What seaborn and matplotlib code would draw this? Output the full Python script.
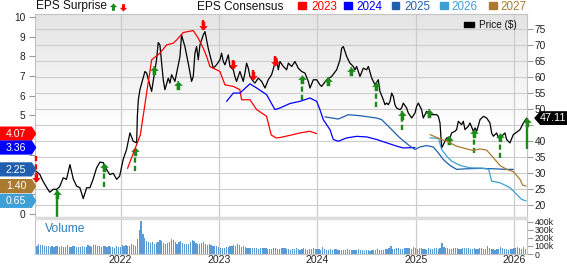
import numpy as np
import pandas as pd
import matplotlib
matplotlib.use("Agg")
import matplotlib.pyplot as plt
import seaborn as sns
from matplotlib.patches import Polygon, Rectangle
from matplotlib.path import Path
from matplotlib.lines import Line2D

sns.set_theme(style="white")
plt.rcParams["font.family"] = ["Liberation Sans", "DejaVu Sans"]

# ---------------- data ----------------
price_t = [2021.139, 2021.18, 2021.21, 2021.25, 2021.28, 2021.315, 2021.35, 2021.38, 2021.417, 2021.45,
           2021.485, 2021.52, 2021.553, 2021.586, 2021.62, 2021.655, 2021.688, 2021.72, 2021.756, 2021.79,
           2021.823, 2021.857, 2021.89, 2021.925, 2021.96, 2021.99, 2022.026, 2022.06, 2022.095, 2022.128,
           2022.163, 2022.17, 2022.18, 2022.196, 2022.247, 2022.264, 2022.315, 2022.365, 2022.382, 2022.399,
           2022.433, 2022.45, 2022.484, 2022.501, 2022.518, 2022.552, 2022.603, 2022.619, 2022.653, 2022.687,
           2022.721, 2022.738, 2022.755, 2022.772, 2022.789, 2022.806, 2022.84, 2022.857, 2022.874, 2022.89,
           2022.924, 2022.941, 2022.975, 2023.009, 2023.026, 2023.043, 2023.06, 2023.094, 2023.111, 2023.145,
           2023.161, 2023.178, 2023.195, 2023.212, 2023.246, 2023.263, 2023.28, 2023.297, 2023.314, 2023.348,
           2023.365, 2023.399, 2023.433, 2023.467, 2023.5, 2023.534, 2023.568, 2023.585, 2023.602,
           2023.619, 2023.653, 2023.687, 2023.704, 2023.738, 2023.771, 2023.805, 2023.839, 2023.873, 2023.907,
           2023.924, 2023.958, 2023.992, 2024.025, 2024.042, 2024.093, 2024.144, 2024.195, 2024.229, 2024.246,
           2024.263, 2024.28, 2024.297, 2024.33, 2024.364, 2024.381, 2024.398, 2024.432, 2024.466, 2024.5,
           2024.517, 2024.551, 2024.585, 2024.618,
           2024.635, 2024.669, 2024.686, 2024.703, 2024.72, 2024.737, 2024.754, 2024.771, 2024.787, 2024.804,
           2024.838, 2024.855, 2024.872, 2024.906, 2024.923, 2024.957, 2024.991, 2025.008, 2025.025, 2025.058,
           2025.075, 2025.109, 2025.143, 2025.177, 2025.211, 2025.228, 2025.245, 2025.262, 2025.279, 2025.313,
           2025.346, 2025.363, 2025.397, 2025.414, 2025.431, 2025.465, 2025.482, 2025.499, 2025.533, 2025.55,
           2025.584, 2025.601, 2025.618, 2025.652, 2025.686, 2025.719, 2025.753, 2025.77, 2025.787, 2025.821,
           2025.838, 2025.871, 2025.905, 2025.922, 2025.956, 2025.99, 2026.024, 2026.058, 2026.092, 2026.126]
price_v = [30.6, 29.5, 27.5, 25.4, 24.0, 24.9, 24.9, 25.7, 28.5, 28.0,
           32.6, 28.0, 25.9, 25.4, 22.0, 25.4, 25.4, 28.0, 31.6, 33.4,
           33.2, 31.1, 29.5, 29.9, 28.0, 29.0, 34.2, 37.3, 42.5, 39.9,
           39.4, 47.7, 52.8, 55.96, 61.65, 61.14, 55.44, 65.28, 70.67, 69.94,
           59.06, 55.96, 59.58, 58.03, 60.62, 58.55, 66.32, 73.05, 69.42, 64.24,
           58.55, 60.1, 67.35, 69.42, 65.28, 69.94, 73.05, 74.08, 71.5, 68.9,
           64.76, 62.69, 63.73, 65.28, 67.35, 64.76, 63.73, 66.83, 63.21, 62.17,
           60.1, 58.55, 60.1, 61.65, 58.55, 61.14, 64.24, 62.69, 60.1, 58.55,
           58.03, 59.58, 58.55, 56.48, 59.06, 60.62, 64.24, 65.8, 62.17,
           64.76, 63.21, 62.17, 64.24, 63.21, 64.76, 62.69, 61.65, 61.13, 58.54,
           56.47, 59.06, 59.06, 57.51, 56.99, 59.06, 60.1, 62.17, 65.28, 68.9,
           69.42, 67.87, 66.31, 64.24, 63.21, 62.17, 63.21, 60.1, 62.69, 62.17,
           63.21, 59.58, 57.51, 59.06,
           55.43, 52.84, 51.29, 51.81, 51.29, 52.32, 54.91, 53.88, 51.29, 50.25,
           49.73, 50.25, 51.81, 50.25, 48.7, 47.15, 48.7, 50.77, 51.81, 49.73,
           47.15, 49.22, 48.18, 48.18, 48.18, 47.66, 45.59, 37.82, 38.86, 40.93,
           40.93, 42.48, 43.0, 43.52, 46.11, 45.07, 46.11, 43.52, 44.56, 45.59,
           43.0, 44.04, 43.0, 46.63, 47.66, 47.15, 45.59, 42.48, 41.45, 42.48,
           40.93, 41.45, 42.48, 40.41, 39.38, 41.97, 42.69, 43.52, 45.59, 47.11]

eps23_t = [2022.07, 2022.20, 2022.315, 2022.399, 2022.467, 2022.535, 2022.569, 2022.636, 2022.738, 2022.789,
           2022.84, 2022.874, 2022.907, 2023.009, 2023.06, 2023.145, 2023.212, 2023.229, 2023.314, 2023.382,
           2023.483, 2023.53, 2023.58, 2023.62, 2023.72, 2023.82, 2023.92, 2023.99]
eps23_v = [2.3, 4.0, 7.82, 8.16, 8.58, 8.67, 8.83, 9.21, 9.31, 8.92,
           8.41, 7.99, 7.48, 7.23, 6.55, 6.47, 6.30, 5.79, 5.79, 5.29,
           4.95, 4.0, 3.85, 3.87, 3.98, 4.10, 4.19, 4.07]
eps24_t = [2023.077, 2023.145, 2023.212, 2023.314, 2023.382, 2023.483, 2023.568, 2023.619, 2023.72, 2023.822,
           2023.924, 2023.992, 2024.025, 2024.059, 2024.127, 2024.161, 2024.212, 2024.297, 2024.398, 2024.5,
           2024.602, 2024.703, 2024.805, 2024.872, 2024.991]
eps24_v = [5.71, 6.13, 6.13, 6.6, 6.39, 6.05, 5.29, 5.37, 5.6, 5.71,
           5.88, 5.71, 5.29, 4.78, 4.27, 3.77, 3.68, 3.85, 3.93, 3.9,
           3.77, 3.6, 3.43, 3.34, 3.36]
eps25_t = [2024.076, 2024.212, 2024.313, 2024.432, 2024.601, 2024.652, 2024.737, 2024.838, 2024.94, 2024.991,
           2025.041, 2025.109, 2025.177, 2025.228, 2025.279, 2025.346, 2025.414, 2025.516, 2025.651, 2025.787,
           2025.922, 2025.99]
eps25_v = [4.92, 4.81, 5.03, 4.98, 4.86, 4.78, 4.36, 3.85, 3.43, 3.26,
           3.39, 3.46, 3.39, 3.09, 2.75, 2.45, 2.25, 2.28, 2.30, 2.28,
           2.25, 2.25]
eps26_t = [2025.143, 2025.23, 2025.262, 2025.313, 2025.363, 2025.448, 2025.55, 2025.686, 2025.74, 2025.77,
           2025.855, 2025.956, 2026.024, 2026.075, 2026.12]
eps26_v = [3.85, 3.83, 3.26, 2.92, 2.67, 2.45, 2.33, 2.31, 2.25, 1.65,
           1.57, 1.32, 0.98, 0.72, 0.65]
eps27_t = [2025.143, 2025.245, 2025.313, 2025.414, 2025.516, 2025.584, 2025.651, 2025.719, 2025.787, 2025.855,
           2025.922, 2025.99, 2026.058, 2026.085, 2026.12]
eps27_v = [4.02, 3.80, 3.68, 3.43, 3.29, 3.21, 3.29, 3.23, 2.84, 2.45,
           2.25, 2.14, 1.74, 1.45, 1.40]

eps_years = ["2023", "2024", "2025", "2026", "2027"]
eps_colors = ["#ff0000", "#0000ff", "#1f5fad", "#3d9fd3", "#a97a30"]

# EPS surprise arrows (price axis): date, tip price, tail price, direction, solid shaft
surp_t = [2021.139, 2021.35, 2021.83, 2022.145, 2022.34, 2022.58, 2022.84, 2023.14, 2023.345, 2023.57,
          2023.84, 2024.11, 2024.34, 2024.59, 2024.86, 2025.13, 2025.34, 2025.59, 2025.855, 2026.125]
surp_tip = [27.05, 24.57, 32.96, 38.24, 63.41, 58.75, 74.6, 62.48, 59.06, 63.41,
            60.6, 59.99, 63.1, 58.44, 49.43, 50.05, 41.66, 43.83, 42.59, 47.25]
surp_tail = [35.44, 15.56, 25.5, 30.47, 60.6, 55.95, 77.7, 65.28, 62.17, 66.52,
             52.85, 57.2, 60.3, 50.67, 43.52, 47.25, 38.86, 36.38, 34.82, 37.62]
surp_dir = ["down", "up", "up", "up", "up", "up", "down", "down", "down", "down",
            "up", "up", "up", "up", "up", "up", "up", "up", "up", "up"]
surp_solid = [False, True, False, False, False, False, False, False, False, False,
              False, False, False, False, False, False, False, False, False, True]

# weekly volume (thousands)
vol_start = 2021.15
vol_k = [105, 120, 115, 110, 100, 95, 100, 90, 95, 90, 95, 105, 88, 98, 85, 82, 112, 92, 88, 96,
         105, 90, 84, 92, 98, 88, 82, 108, 95, 92, 112, 118, 102, 96, 90, 100, 96, 88, 94, 86,
         92, 80, 96, 88, 84,
         110, 105, 115, 100, 95, 120, 110, 105, 190, 300, 410, 250, 195, 160, 150, 140, 145, 130, 135, 150,
         170, 160, 140, 130, 135, 150, 190, 175, 145, 130, 155, 165, 140, 125, 130, 120, 145, 180, 165, 140,
         120, 130, 140, 150, 125, 115, 120, 110, 105, 100, 95, 90,
         80, 70, 75, 85, 90, 95, 100, 115, 105, 130, 110, 90, 95, 85, 80, 75, 70, 80, 75, 70,
         65, 70, 75, 80, 70, 65, 60, 65, 70, 75, 65, 60, 70, 75, 70, 65, 60, 55, 60, 65,
         70, 60, 55, 65, 70, 60, 55, 60, 65, 70, 60, 65,
         60, 55, 90, 60, 55, 50, 60, 55, 65, 60, 55, 50, 45, 55, 50, 60, 55, 50, 45, 50,
         55, 60, 50, 45, 40, 45, 50, 40, 45, 50, 55, 60, 50, 45, 55, 60, 65, 70, 100, 65,
         60, 70, 75, 65, 60, 70, 80, 75, 70, 65, 90, 70,
         65, 70, 80, 65, 60, 55, 70, 65, 60, 75, 70, 65, 70, 135, 90, 75, 70, 65, 60, 70,
         80, 75, 65, 60, 70, 75, 80, 70, 65, 60, 70, 65, 60, 70, 75, 65, 60, 100, 70, 65,
         60, 55, 60, 65, 85, 70, 65, 60, 55, 60, 65, 70,
         70, 90, 75, 65, 85, 60]

year_ticks = [2022, 2023, 2024, 2025, 2026]
price_ticks = [20, 25, 30, 35, 40, 45, 50, 55, 60, 65, 70, 75]
price_tick_labels = ["20", "25", "30", "35", "40", "", "50", "55", "60", "65", "70", "75"]
eps_ticks = [0, 1, 2, 3, 4, 5, 6, 7, 8, 9, 10]
eps_tick_labels = ["0", "", "", "", "", "5", "6", "7", "8", "9", "10"]
vol_ticks = [0, 100, 200, 300, 400]
vol_labels = ["0", "100k", "200k", "300k", "400k"]

# ---------------- layout ----------------
W, H = 567, 264
fig = plt.figure(figsize=(W / 100, H / 100), dpi=100)
fig.patch.set_facecolor("white")


def fx(px):
    return px / W


def fy(py):
    return 1 - py / H


L, R = 35, 526.7
ax_p = fig.add_axes([fx(L), fy(216.8), fx(R) - fx(L), fy(14) - fy(216.8)])
ax_v = fig.add_axes([fx(L), fy(254), fx(R) - fx(L), fy(219.3) - fy(254)])
ax_e = ax_p.twinx()

XMIN, XMAX = 2021.13, 2026.126

# gradient background
yy = np.linspace(0, 1, 256)
lev = 1 - 0.105 * np.clip((yy - 0.42) / 0.58, 0, 1)
img = np.repeat(lev[:, None, None], 3, axis=2)
ax_p.imshow(img, extent=(0, 1, 0, 1), transform=ax_p.transAxes, origin="lower",
            aspect="auto", zorder=0, interpolation="bilinear")

grid_c = "#cccccc"
for y in price_ticks:
    ax_p.axhline(y, color=grid_c, lw=0.8, zorder=1)
for yr in year_ticks:
    ax_p.axvline(yr, color=grid_c, lw=0.9, zorder=1)
    ax_v.axvline(yr, color=grid_c, lw=0.9, zorder=0)

# price
sns.lineplot(x=price_t, y=price_v, ax=ax_p, color="black", lw=0.9, zorder=4,
             estimator=None, sort=False)

# surprise arrows
up_path = Path([(0, 0), (1, -1), (0.4, -1), (0.4, -2), (-0.4, -2), (-0.4, -1), (-1, -1), (0, 0)],
               closed=True)
down_path = Path([(0, 0), (1, 1), (0.4, 1), (0.4, 2), (-0.4, 2), (-0.4, 1), (-1, 1), (0, 0)],
                 closed=True)
green, red = "#1b8a1b", "#ff0000"
for t, tip, tail, d, solid in zip(surp_t, surp_tip, surp_tail, surp_dir, surp_solid):
    c = green if d == "up" else red
    ls = "-" if solid else (0, (2.2, 1.3))
    ax_p.plot([t, t], [tail, tip], color=c, lw=1.7, ls=ls, zorder=6, clip_on=False,
              solid_capstyle="butt", dash_capstyle="butt")
    ax_p.plot([t], [tip], marker=up_path if d == "up" else down_path, ms=12.5,
              mew=0, color=c, zorder=7, clip_on=False, ls="none")

# EPS consensus lines
for tt, vv, col in zip([eps23_t, eps24_t, eps25_t, eps26_t, eps27_t],
                       [eps23_v, eps24_v, eps25_v, eps26_v, eps27_v], eps_colors):
    sns.lineplot(x=tt, y=vv, ax=ax_e, color=col, lw=0.9, estimator=None, sort=False, zorder=3)

# volume
vol_t = vol_start + np.arange(len(vol_k)) / 52.0
ax_v.bar(vol_t, vol_k, width=0.0125, color="#5b9bd5", edgecolor="none", zorder=2)

# limits
for a in (ax_p, ax_e, ax_v):
    a.set_xlim(XMIN, XMAX)
ax_p.set_ylim(16.33, 79.57)
ax_e.set_ylim(-0.162, 10.152)
ax_v.set_ylim(0, 432)

# axes styling
tick_c = "#9a9a9a"
lab_c = "#222222"
ax_p.yaxis.tick_right()
ax_p.set_yticks(price_ticks)
ax_p.set_yticklabels(price_tick_labels)
ax_p.tick_params(axis="y", which="both", right=True, left=False, length=4.3, width=0.8,
                 color=tick_c, pad=1.5, labelsize=7.3, labelcolor=lab_c, direction="out")
ax_p.set_xticks([])
ax_p.set_ylabel("")
ax_e.yaxis.tick_left()
ax_e.set_yticks(eps_ticks)
ax_e.set_yticklabels(eps_tick_labels)
ax_e.tick_params(axis="y", which="both", left=True, right=False, labelleft=True, labelright=False,
                 length=4.3, width=0.8, color=tick_c, pad=2.5, labelsize=7.3, labelcolor=lab_c,
                 direction="out")
ax_e.set_ylabel("")
for s in ax_p.spines.values():
    s.set_color("#c4c4c4")
    s.set_linewidth(0.8)
for s in ax_e.spines.values():
    s.set_visible(False)

ax_v.set_facecolor("white")
ax_v.yaxis.tick_right()
ax_v.set_yticks(vol_ticks)
ax_v.set_yticklabels(vol_labels)
ax_v.tick_params(axis="y", right=True, left=False, length=4.3, width=0.8, color=tick_c, pad=1.5,
                 labelsize=6.3, labelcolor=lab_c, direction="out")
ax_v.set_xticks(year_ticks)
ax_v.set_xticklabels([str(y) for y in year_ticks])
ax_v.tick_params(axis="x", length=0, pad=0.6, labelsize=7.6, labelcolor=lab_c)
ax_v.spines["top"].set_visible(False)
for k in ("left", "right", "bottom"):
    ax_v.spines[k].set_color("#c4c4c4")
    ax_v.spines[k].set_linewidth(0.8)

# separator band
fig.add_artist(Rectangle((fx(L), fy(219.3)), fx(R) - fx(L), fy(216.6) - fy(219.3),
                         transform=fig.transFigure, color="#dcdcdc", zorder=5))

# ---------------- header ----------------
fig.text(fx(36), fy(6.5), "EPS Surprise", fontsize=8.6, ha="left", va="center", color="#111111")
fig.add_artist(Line2D([fx(112.5)], [fy(2.5)], marker=up_path, ms=10.5, mew=0, color=green,
                      transform=fig.transFigure, ls="none"))
fig.add_artist(Line2D([fx(122.5)], [fy(10.8)], marker=down_path, ms=10.5, mew=0, color=red,
                      transform=fig.transFigure, ls="none"))
fig.text(fx(197), fy(6.5), "EPS Consensus", fontsize=8.6, ha="left", va="center", color="#111111")
sq_x = [298.3, 344.0, 391.7, 440.0, 489.0]
tx_x = [311.2, 356.5, 404.0, 451.5, 500.8]
for sx, tx, lab, col in zip(sq_x, tx_x, eps_years, eps_colors):
    fig.add_artist(Rectangle((fx(sx), fy(9)), 7.5 / W, 7.2 / H, transform=fig.transFigure,
                             color=col))
    fig.text(fx(tx), fy(6.5), lab, fontsize=8.4, ha="left", va="center", color=col)

fig.add_artist(Rectangle((fx(464.3), fy(27)), 10 / W, 4.5 / H, transform=fig.transFigure,
                         color="black", zorder=8))
fig.text(fx(479.3), fy(25.5), "Price ($)", fontsize=7.2, ha="left", va="center", color="#111111",
         zorder=8)
fig.text(fx(45), fy(229), "Volume", fontsize=8.7, ha="left", va="center", color="#2f7fc0")

# ---------------- badges ----------------
inv = fig.transFigure.inverted()


def ypix(ax, val):
    disp = ax.transData.transform((XMIN, val))
    return (1 - inv.transform(disp)[1]) * H


last_vals = [eps23_v[-1], eps24_v[-1], eps25_v[-1], eps26_v[-1], eps27_v[-1]]
for val, col in zip(last_vals, eps_colors):
    yc = ypix(ax_e, val)
    h = 6.4
    verts = [(0, yc - h), (31.5, yc - h), (35.5, yc), (31.5, yc + h), (0, yc + h)]
    fig.add_artist(Polygon([(fx(a), fy(b)) for a, b in verts], closed=True,
                           transform=fig.transFigure, color=col, zorder=9))
    fig.text(fx(16), fy(yc + 0.3), f"{val:.2f}", fontsize=7.6, ha="center", va="center",
             color="white", zorder=10)

yc = ypix(ax_p, price_v[-1])
h = 6.2
verts = [(535, yc), (540.5, yc - h), (567, yc - h), (567, yc + h), (540.5, yc + h)]
fig.add_artist(Polygon([(fx(a), fy(b)) for a, b in verts], closed=True,
                       transform=fig.transFigure, color="black", zorder=9))
fig.text(fx(553.5), fy(yc + 0.3), f"{price_v[-1]:.2f}", fontsize=7.8, ha="center", va="center",
         color="white", zorder=10)

fig.savefig("out.png", dpi=100)
